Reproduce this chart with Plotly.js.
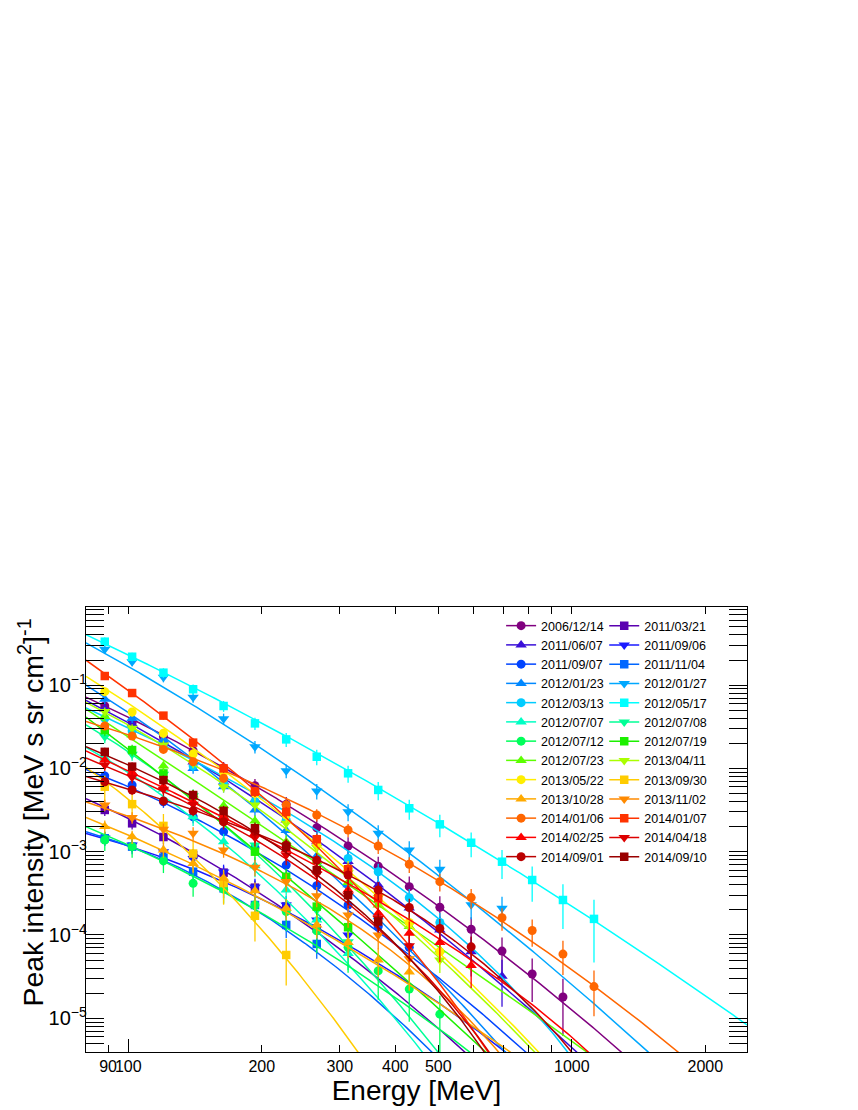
<!DOCTYPE html>
<html><head><meta charset="utf-8">
<script src="https://cdn.plot.ly/plotly-3.0.1.min.js"></script>
<style>html,body{margin:0;padding:0;background:#fff}</style>
</head><body><div id="chart" style="width:858px;height:1110px"></div>
<script>
// Energy bin centres [MeV]
const energy = [88.5,102,120,140,164,193,227,266,313,366,430,504,593,696,814,955,1122];

const dates = ["2006/12/14","2011/03/21","2011/06/07","2011/09/06","2011/09/07","2011/11/04",
  "2012/01/23","2012/01/27","2012/03/13","2012/05/17","2012/07/07","2012/07/08","2012/07/12",
  "2012/07/19","2012/07/23","2013/04/11","2013/05/22","2013/09/30","2013/10/28","2013/11/02",
  "2014/01/06","2014/01/07","2014/02/25","2014/04/18","2014/09/01","2014/09/10"];

// Peak intensities [(MeV s sr cm^2)^-1], one value per energy bin (from the first bin on)
const v_20061214 = [0.0561,0.0354,0.0240,0.0163,0.0101,0.0062,0.0037,0.00194,0.00117,6.7e-4,3.8e-4,2.15e-4,1.17e-4,6.4e-5,3.4e-5,1.8e-5];
const v_20110321 = [0.00317,0.00219,0.00150,9.1e-4,5.6e-4,3.7e-4,2.2e-4,1.2e-4];
const v_20110607 = [0.0516,0.0341,0.0207,0.0119,0.00687,0.00418,0.0024,0.00132,7.6e-4,3.98e-4,2.11e-4,1.15e-4,6.3e-5,3.2e-5];
const v_20110906 = [0.00146,0.00120,0.00100,8.3e-4,5.7e-4,3.77e-4,2.29e-4,1.51e-4,1.0e-4];
const v_20110907 = [0.00813,0.00631,0.00398,0.00263,0.00174,0.00112,6.9e-4,3.9e-4,2.29e-4,1.26e-4,7.1e-5];
const v_20111104 = [0.00145,0.00115,8.5e-4,5.75e-4,3.63e-4,2.29e-4,1.32e-4,7.8e-5];
const v_20120123 = [0.0676,0.0398,0.0219,0.0100,0.00603,0.00316,0.0018,8.9e-4,4.0e-4,1.66e-4];
const v_20120127 = [0.269,0.191,0.124,0.0714,0.0395,0.0182,0.00938,0.00536,0.00302,0.00166,0.00105,6.15e-4,2.3e-4,2.09e-4];
const v_20120313 = [0.0398,0.0282,0.0178,0.0107,0.0066,0.0040,0.0024,0.00141,8.3e-4,5.75e-4,2.8e-4,1.41e-4];
const v_20120517 = [0.332,0.219,0.141,0.0892,0.0561,0.0347,0.0223,0.0138,0.00873,0.00551,0.00332,0.00213,0.00128,7.58e-4,4.57e-4,2.63e-4,1.56e-4];
const v_20120707 = [0.0133,0.0089,0.00562,0.00263,0.00132,6.76e-4,3.47e-4,1.51e-4,6.0e-5];
const v_20120708 = [0.024,0.0148,0.0085,0.00468,0.00251,0.0012,4.5e-4,2.0e-4,8.3e-5];
const v_20120712 = [0.00138,0.00115,7.76e-4,4.17e-4,3.55e-4,2.29e-4,1.91e-4,1.12e-4,7.1e-5,3.7e-5,2.24e-5,1.12e-5];
const v_20120719 = [0.0288,0.0166,0.0087,0.00468,0.0024,0.0010,5.0e-4,2.19e-4,1.24e-4];
const v_20120723 = [0.0419,0.0251,0.0107,0.00479,0.00355,0.00234,0.00132,7.6e-4,4.27e-4,2.29e-4,1.26e-4,6.6e-5];
const v_20130411 = [0.0481,0.0303,0.0191,0.0117,0.00603,0.00363,0.00219,0.00112,5.6e-4,2.82e-4,1.32e-4,5.0e-5];
const v_20130522 = [0.0834,0.0475,0.0264,0.0149,0.0089,0.0050,0.00275,0.00126,6.3e-4,3.0e-4,1.41e-4,6.3e-5];
const v_20130930 = [0.00603,0.00372,0.00204,9.5e-4,4.2e-4,1.7e-4,5.75e-5];
const v_20131028 = [0.0020,0.00151,0.00105,7.2e-4,4.8e-4,3.4e-4,2.1e-4,1.32e-4,8.1e-5,5.0e-5,3.6e-5];
const v_20131102 = [0.00363,0.00257,0.00186,0.00166,0.00105,6.5e-4,4.4e-4,2.95e-4,1.74e-4,1.0e-4,5.2e-5];
const v_20140106 = [0.0323,0.0245,0.0169,0.0120,0.0076,0.00525,0.00364,0.00276,0.00182,0.00117,7.06e-4,4.37e-4,2.81e-4,1.61e-4,1.13e-4,5.9e-5,2.4e-5];
const v_20140107 = [0.1285,0.0803,0.043,0.0204,0.0100,0.00525,0.0030,0.00141,6.15e-4,2.76e-4];
const v_20140225 = [0.0126,0.0089,0.0060,0.00398,0.00263,0.00166,0.00105,6.0e-4,3.47e-4,1.82e-4,1.05e-4,8.1e-5,4.3e-5];
const v_20140418 = [0.0110,0.00782,0.00562,0.00372,0.00229,0.00148,9.1e-4,5.4e-4,3.0e-4,1.58e-4,7.4e-5];
const v_20140901 = [0.00692,0.0055,0.00407,0.00309,0.00229,0.00174,0.0012,7.9e-4,5.25e-4,3.47e-4,2.14e-4,1.2e-4,7.2e-5];
const v_20140910 = [0.0158,0.0105,0.00724,0.00479,0.00309,0.00191,0.00115,6.0e-4,3.0e-4,1.45e-4];

const values = [v_20061214,v_20110321,v_20110607,v_20110906,v_20110907,v_20111104,v_20120123,
  v_20120127,v_20120313,v_20120517,v_20120707,v_20120708,v_20120712,v_20120719,v_20120723,
  v_20130411,v_20130522,v_20130930,v_20131028,v_20131102,v_20140106,v_20140107,v_20140225,
  v_20140418,v_20140901,v_20140910];

// Relative error per energy bin, and per-event error factor
const relErr = [0.12,0.12,0.13,0.14,0.15,0.17,0.19,0.21,0.23,0.25,0.27,0.30,0.33,0.38,0.45,0.55,0.70];
const errScale = [1.2,1.3,1.5,1.5,1.2,1.6,1.0,1.0,1.0,1.0,1.6,1.4,2.2,1.3,1.0,1.0,1.0,3.0,1.5,1.3,0.8,0.8,1.4,1.3,1.0,1.0];

// Fitted curves: log10 F = fitA - fitB*u - fitC*u^2 - log10(e)*(E-100)/fitEc,  u = log10(E/100 MeV)
const fitA  = [-1.387,-2.60,-1.45,-2.93,-2.22,-2.93,-1.33,-0.777,-1.513,-0.637,-2.05,-1.80,-2.92,-1.77,-1.62,-1.48,-1.22,-2.37,-2.80,-2.574,-1.596,-1.063,-2.029,-2.087,-2.246,-1.96];
const fitB  = [2.614,2.6,2.9,1.7,2.3,2.0,3.6,3.053,2.09,2.594,3.4,3.6,2.4,4.1,3.5,3.0,3.5,4.3,2.3,1.14,1.772,3.1,2.3,1.4,1.1,1.4];
const fitC  = [0.897,1.44,1.0,1.42,1.4,2.356,1.405,0.764,0,0.423,2.5,2.24,1.07,0.5,0.15,1.4,1.1,3.0,0.84,0,1.048,0,0,0,0,0];
const fitEc = [null,null,null,null,null,null,null,null,210,null,null,null,null,null,null,null,null,null,null,135,null,130,435,110,190,100];

// Styles
const colors = ["#80007f","#5a00b0","#3a10d8","#1a1aff","#0044ff","#0066ff","#0088ff","#00a8ff","#00ccff","#00ffff",
  "#00ffc4","#00ff96","#00ff5a","#1cf000","#5cff00","#aaff00","#ffee00","#ffcc00","#ffaa00","#ff8a00",
  "#ff6600","#ff3300","#ff0000","#dd0000","#bb0000","#990000"];
const symbolCycle = ["circle","square","triangle-up","triangle-down"];

const FONT = "Liberation Sans, Arial, Helvetica, sans-serif";
const xRange = [1.9046, 3.395];
const yRange = [-5.405, -0.0624];

const traces = [];
const nCurve = 300;
for (let s = 0; s < dates.length; s++) {
  const col = colors[s];
  const lg = (s % 2 === 0) ? 'legend' : 'legend2';
  // fit curve
  const cx = [], cy = [];
  for (let k = 0; k < nCurve; k++) {
    const lx = xRange[0] + (xRange[1] - xRange[0]) * k / (nCurve - 1);
    const u = lx - 2, E = Math.pow(10, lx);
    let lf = fitA[s] - fitB[s] * u - fitC[s] * u * u;
    if (fitEc[s]) lf -= Math.LOG10E * (E - 100) / fitEc[s];
    cx.push(E);
    cy.push(Math.pow(10, lf));
  }
  traces.push({x: cx, y: cy, mode: 'lines', line: {color: col, width: 1.5},
    showlegend: false, hoverinfo: 'skip', legend: lg});
  // data points (nulls in between so that points are not joined)
  const px = [], py = [], pe = [];
  values[s].forEach((v, i) => {
    px.push(energy[i], null); py.push(v, null);
    pe.push(v * Math.min(0.95, relErr[i] * errScale[s]), null);
  });
  const sym = symbolCycle[s % 4];
  traces.push({x: px, y: py, name: dates[s], mode: 'lines+markers', connectgaps: false,
    line: {color: col, width: 1.5},
    marker: {color: col, symbol: sym, size: sym === 'circle' ? 9 : (sym === 'square' ? 8.5 : 10)},
    error_y: {type: 'data', array: pe, visible: true, color: col, thickness: 1.3, width: 0},
    legend: lg});
}
// empty trace carrying the decade-tick axis
traces.push({x: [], y: [], xaxis: 'x2', yaxis: 'y', showlegend: false, hoverinfo: 'skip'});

const legendBase = {yanchor: 'top', xanchor: 'left', bgcolor: 'rgba(0,0,0,0)', borderwidth: 0,
  font: {family: FONT, size: 12.5, color: '#000'}, tracegroupgap: 0, itemwidth: 30};

const layout = {
  width: 858, height: 1110,
  margin: {l: 86, r: 111, t: 607, b: 58},
  paper_bgcolor: '#fff', plot_bgcolor: '#fff',
  font: {family: FONT, color: '#000'},
  showlegend: true,
  legend: Object.assign({x: 0.628, y: 0.991}, legendBase),
  legend2: Object.assign({x: 0.784, y: 0.991}, legendBase),
  xaxis: {type: 'log', range: xRange, tickmode: 'array', tickangle: 0,
    tickvals: [90,100,200,300,400,500,1000,2000], ticktext: ['90','100','200','300','400','500','1000','2000'],
    ticks: 'inside', ticklen: 7, tickwidth: 1, tickcolor: '#000',
    minor: {tickmode: 'array', tickvals: [600,700,800,900], ticks: 'inside', ticklen: 7, tickcolor: '#000', showgrid: false},
    showline: true, linecolor: '#000', linewidth: 1, mirror: 'allticks',
    showgrid: false, zeroline: false, tickfont: {family: FONT, size: 16, color: '#000'},
    title: {text: 'Energy [MeV]', font: {family: FONT, size: 28, color: '#000'}, standoff: 4}},
  xaxis2: {type: 'log', range: xRange, overlaying: 'x', anchor: 'y', side: 'bottom',
    tickmode: 'array', tickvals: [100, 1000], ticks: 'inside', ticklen: 13, tickcolor: '#000',
    showticklabels: false, showline: false, showgrid: false, zeroline: false},
  yaxis: {type: 'log', range: yRange, dtick: 1, exponentformat: 'power',
    ticks: 'inside', ticklen: 18, tickwidth: 1, tickcolor: '#000', ticklabelstandoff: -5,
    minor: {ticks: 'inside', ticklen: 9, tickcolor: '#000', showgrid: false},
    showline: true, linecolor: '#000', linewidth: 1, mirror: 'allticks',
    showgrid: false, zeroline: false, tickfont: {family: FONT, size: 16, color: '#000'}},
  annotations: [{text: 'Peak intensity [MeV s sr cm<sup>2</sup>]<sup>-1</sup>', textangle: -90,
    xref: 'paper', yref: 'paper', x: -0.0832, y: 0.538, xanchor: 'center', yanchor: 'middle',
    showarrow: false, font: {family: FONT, size: 28.5, color: '#000'}}]
};

Plotly.newPlot('chart', traces, layout, {staticPlot: true, displayModeBar: false});
</script>
</body></html>
